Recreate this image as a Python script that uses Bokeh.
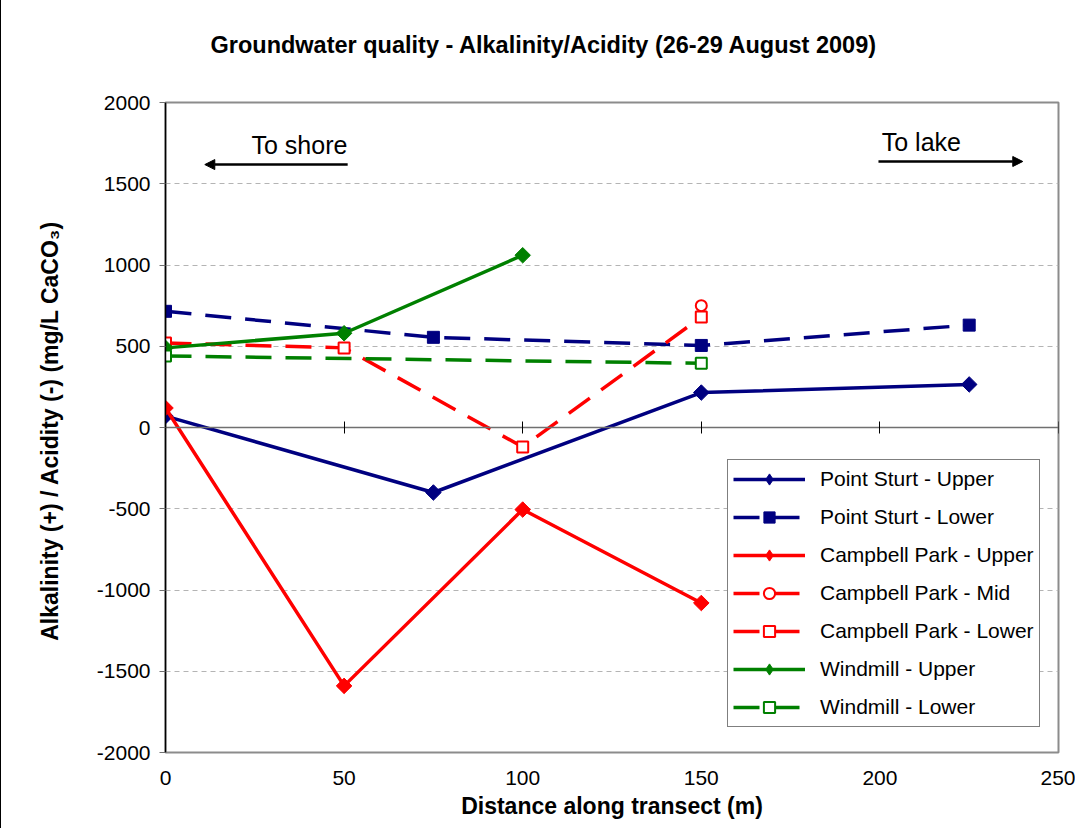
import math
from bokeh.plotting import figure
from bokeh.models import (Range1d, LinearAxis, FixedTicker, Legend, LegendItem,
                          Arrow, NormalHead, Label, Grid, PrintfTickFormatter)
from bokeh.embed import file_html
from bokeh.resources import INLINE

# ---------------- data ----------------
title_text = "Groundwater quality - Alkalinity/Acidity (26-29 August 2009)"
x_label = "Distance along transect (m)"
y_label = "Alkalinity (+) / Acidity (-)  (mg/L CaCO\u2083)"
x_ticks = [0, 50, 100, 150, 200, 250]
y_ticks = [-2000, -1500, -1000, -500, 0, 500, 1000, 1500, 2000]

ps_upper_x = [0, 75, 150, 225]
ps_upper_y = [70, -400, 215, 265]
ps_lower_x = [0, 75, 150, 225]
ps_lower_y = [715, 555, 505, 630]
cp_upper_x = [0, 50, 100, 150]
cp_upper_y = [120, -1590, -505, -1080]
cp_mid_x = [150]
cp_mid_y = [750]
cp_lower_x = [0, 50, 100, 150]
cp_lower_y = [520, 490, -120, 680]
wm_upper_x = [0, 50, 100]
wm_upper_y = [490, 580, 1060]
wm_lower_x = [0, 150]
wm_lower_y = [440, 395]

series_names = ["Point Sturt - Upper", "Point Sturt - Lower", "Campbell Park - Upper",
                "Campbell Park - Mid", "Campbell Park - Lower", "Windmill - Upper",
                "Windmill - Lower"]

NAVY, RED, GREEN = "#000080", "#FF0000", "#008000"
FONT = "Liberation Sans"
TICK_FS = "21px"
LABEL_FS = "23px"

p = figure(frame_width=893, frame_height=650,
           min_border_left=164, min_border_right=17, min_border_top=118, min_border_bottom=76,
           x_range=Range1d(0, 250), y_range=Range1d(-2000, 2000),
           output_backend="svg", toolbar_location=None,
           x_axis_type=None, y_axis_type=None,
           styles={"border-left": "1px solid #000", "margin-top": "-16px"})

p.title.text = title_text
p.title.text_font = FONT
p.title.text_font_size = "23.5px"
p.title.text_font_style = "bold"
p.title.text_color = "black"
p.title.align = "left"
p.title.offset = 45
p.title.standoff = 90

p.outline_line_color = "#8c8c8c"
p.outline_line_width = 2
p.background_fill_color = "white"
p.border_fill_color = "white"

# y axis
yax = LinearAxis(ticker=FixedTicker(ticks=y_ticks), axis_label=y_label,
                 formatter=PrintfTickFormatter(format="%d"))
yax.axis_line_color = "black"
yax.axis_line_width = 1.5
yax.major_tick_in = 0
yax.major_tick_out = 6
yax.major_tick_line_color = "#707070"
yax.minor_tick_line_color = None
yax.major_label_standoff = 9
yax.major_label_text_font = FONT
yax.major_label_text_font_size = TICK_FS
yax.major_label_text_color = "black"
yax.axis_label_text_font = FONT
yax.axis_label_text_font_size = LABEL_FS
yax.axis_label_text_font_style = "bold"
yax.axis_label_text_color = "black"
yax.axis_label_standoff = 31
p.add_layout(yax, "left")

# bottom axis (labels only)
xax = LinearAxis(ticker=FixedTicker(ticks=x_ticks), axis_label=x_label,
                 formatter=PrintfTickFormatter(format="%d"))
xax.axis_line_color = None
xax.major_tick_line_color = None
xax.minor_tick_line_color = None
xax.major_tick_out = 0
xax.major_tick_in = 0
xax.major_label_standoff = 18
xax.major_label_text_font = FONT
xax.major_label_text_font_size = TICK_FS
xax.major_label_text_color = "black"
xax.axis_label_text_font = FONT
xax.axis_label_text_font_size = LABEL_FS
xax.axis_label_text_font_style = "bold"
xax.axis_label_text_color = "black"
xax.axis_label_standoff = 5
p.add_layout(xax, "below")

# zero axis line with crossing ticks
zax = LinearAxis(ticker=FixedTicker(ticks=x_ticks), fixed_location=0)
zax.axis_line_color = "#707070"
zax.axis_line_width = 1.5
zax.major_tick_line_color = "black"
zax.major_tick_in = 6
zax.major_tick_out = 6
zax.minor_tick_line_color = None
zax.major_label_text_font_size = "0px"
zax.major_label_text_alpha = 0
p.add_layout(zax, "above")

# grid
yg = Grid(dimension=1, ticker=FixedTicker(ticks=[t for t in y_ticks if t != 0]))
yg.grid_line_color = "#b4b4b4"
yg.grid_line_dash = "5 4"
yg.grid_line_width = 1
p.add_layout(yg)

DASH = "26 14"
DIAM = dict(marker="square", angle=math.pi / 4, size=11)

specs = [
    (ps_upper_x, ps_upper_y, NAVY, "solid", dict(DIAM, fill_color=NAVY, line_color=NAVY)),
    (ps_lower_x, ps_lower_y, NAVY, DASH, dict(marker="square", size=12, fill_color=NAVY, line_color=NAVY)),
    (cp_upper_x, cp_upper_y, RED, "solid", dict(DIAM, fill_color=RED, line_color=RED)),
    (cp_mid_x, cp_mid_y, RED, DASH, dict(marker="circle", size=11, fill_color="white", line_color=RED, line_width=2)),
    (cp_lower_x, cp_lower_y, RED, DASH, dict(marker="square", size=11, fill_color="white", line_color=RED, line_width=2)),
    (wm_upper_x, wm_upper_y, GREEN, "solid", dict(DIAM, fill_color=GREEN, line_color=GREEN)),
    (wm_lower_x, wm_lower_y, GREEN, DASH, dict(marker="square", size=11, fill_color="white", line_color=GREEN, line_width=2)),
]

items = []
for name, (xs, ys, col, dash, mk) in zip(series_names, specs):
    lr = p.line(xs, ys, line_color=col, line_width=3.5, line_dash=dash)
    sr = p.scatter(xs, ys, **mk)
    if mk.get("angle"):
        # hidden diamond swatch for the legend (legend swatches ignore marker rotation)
        sw = p.scatter(xs[:1], ys[:1], marker="diamond", fill_color=col, line_color=col,
                       visible=False)
        items.append(LegendItem(label=name, renderers=[lr, sw]))
    else:
        items.append(LegendItem(label=name, renderers=[lr, sr]))

legend = Legend(items=items, location=(562, 25))
legend.label_text_font = FONT
legend.label_text_font_size = TICK_FS
legend.label_text_color = "black"
legend.border_line_color = "black"
legend.border_line_width = 1
legend.background_fill_color = "white"
legend.background_fill_alpha = 1
legend.inactive_fill_alpha = 0
legend.glyph_width = 72
legend.glyph_height = 28
legend.label_height = 28
legend.spacing = 10
legend.padding = 5
legend.label_standoff = 15
legend.margin = 0
p.add_layout(legend)

# direction annotations
p.add_layout(Arrow(end=NormalHead(size=10, fill_color="black", line_color="black"),
                   x_start=51, y_start=1618, x_end=11, y_end=1618,
                   line_width=2.5, line_color="black"))
p.add_layout(Arrow(end=NormalHead(size=10, fill_color="black", line_color="black"),
                   x_start=199.6, y_start=1637, x_end=240, y_end=1637,
                   line_width=2.5, line_color="black"))
p.add_layout(Label(x=37.5, y=1741, text="To shore", text_align="center", text_baseline="middle",
                   text_font=FONT, text_font_size="25px", text_color="black"))
p.add_layout(Label(x=211.6, y=1754, text="To lake", text_align="center", text_baseline="middle",
                   text_font=FONT, text_font_size="25px", text_color="black"))

open("out.html", "w").write(file_html(p, INLINE))
